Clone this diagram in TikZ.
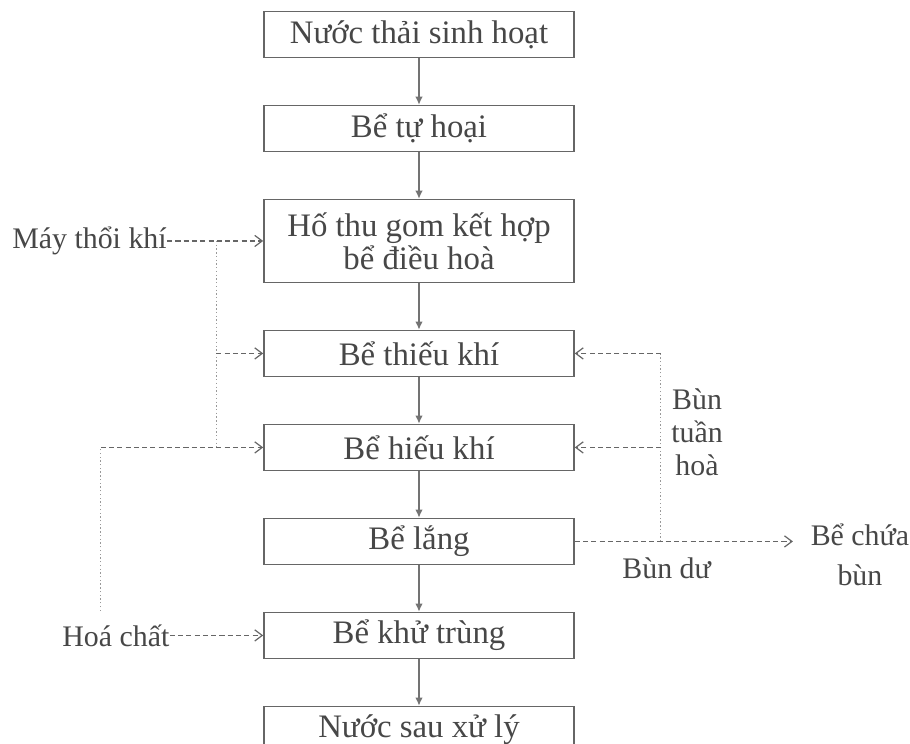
\documentclass[tikz,border=0pt]{standalone}
\usepackage{fontspec}
\setmainfont{Liberation Serif}
\usepackage{tikz}
\usetikzlibrary{calc}
\usetikzlibrary{arrows.meta,positioning}

\begin{document}
\begin{tikzpicture}[x=0.375pt, y=-0.375pt,
			rec/.style  = {draw=black!60, line width=0.6pt, rectangle, minimum width=116.25pt, minimum height=17.25pt, inner sep=0pt, align=center, text=black!72, font=\fontsize{12.3}{12.4}\selectfont},
			lbl/.style  = {inner sep=0pt, text=black!72, align=center, font=\fontsize{11.2}{12.4}\selectfont},
			flow/.style = {-{Latex[length=3pt,width=2.8pt]}, draw=black!55, line width=0.45pt},
			dline/.style = {-{Straight Barb[length=2.8pt,width=4.2pt]}, draw=black!60, line width=0.45pt, dash pattern=on 1.9pt off 1.2pt},
			dseg/.style = {draw=black!60, line width=0.45pt, dash pattern=on 1.9pt off 1.2pt},
			vline/.style = {draw=black!40, line width=0.45pt, dash pattern=on 0.5pt off 0.9pt},
			node distance=17.4pt]
			
			\useasboundingbox (0,0) rectangle (910,744);
			
			% main treatment line
			\node[rec] (b1) at (419,34.5) {Nước thải sinh hoạt};
			\node[rec, below=of b1] (b2) {Bể tự hoại};
			\node[rec, below=of b2, minimum height=31.1pt] (b3) {Hố thu gom kết hợp\\bể điều hoà};
			\node[rec, below=of b3] (b4) {Bể thiếu khí};
			\node[rec, below=of b4] (b5) {Bể hiếu khí};
			\node[rec, below=of b5] (b6) {Bể lắng};
			\node[rec, below=of b6] (b7) {Bể khử trùng};
			\node[rec, below=of b7] (b8) {Nước sau xử lý};
			
			\foreach \value [count=\n from 2] in {1,...,7}
			\draw[flow] (b\value) -- (b\n);
			
			% air and chemicals, left side
			\node[lbl, left=36pt of b3] (mtk) {Máy thổi khí};
			\node[lbl, left=35pt of b7] (hc) {Hoá chất};
			\coordinate[left=17.6pt of b3] (kx);
			\coordinate (hx) at ($(hc.east)+(-25.9pt,9.2pt)$);
			
			\draw[dline] (mtk.east) -- (b3.west);
			\draw[vline] (kx) -- (kx |- b5.west);
			\foreach \value in {4,5}
			\draw[dline] (kx |- b\value.west) -- (b\value.west);
			\draw[vline] (hx) -- (hx |- b5.west);
			\draw[dseg] (hx |- b5.west) -- (kx |- b5.west);
			\draw[dline] (hc.east) -- (b7.west);
			
			% sludge, right side
			\coordinate[right=32.25pt of b6] (rx);
			\node[lbl, right=88.3pt of b6, yshift=-4.9pt, font=\fontsize{11.2}{15}\selectfont] (bcb) {Bể chứa\\bùn};
			\node[lbl, anchor=west] (btl) at ($(rx |- b5.east)+(3.75pt,5.8pt)$) {Bùn\\tuần\\hoà};
			
			\draw[dline, shorten >=6.5pt] (b6.east) -- node[lbl, below=6pt, pos=0.39] (bd) {Bùn dư} (b6.east -| bcb.west);
			\draw[vline] (rx) -- (rx |- b4.east);
			\foreach \value in {4,5}
			\draw[dline] (rx |- b\value.east) -- (b\value.east);
		\end{tikzpicture}
\end{document}
